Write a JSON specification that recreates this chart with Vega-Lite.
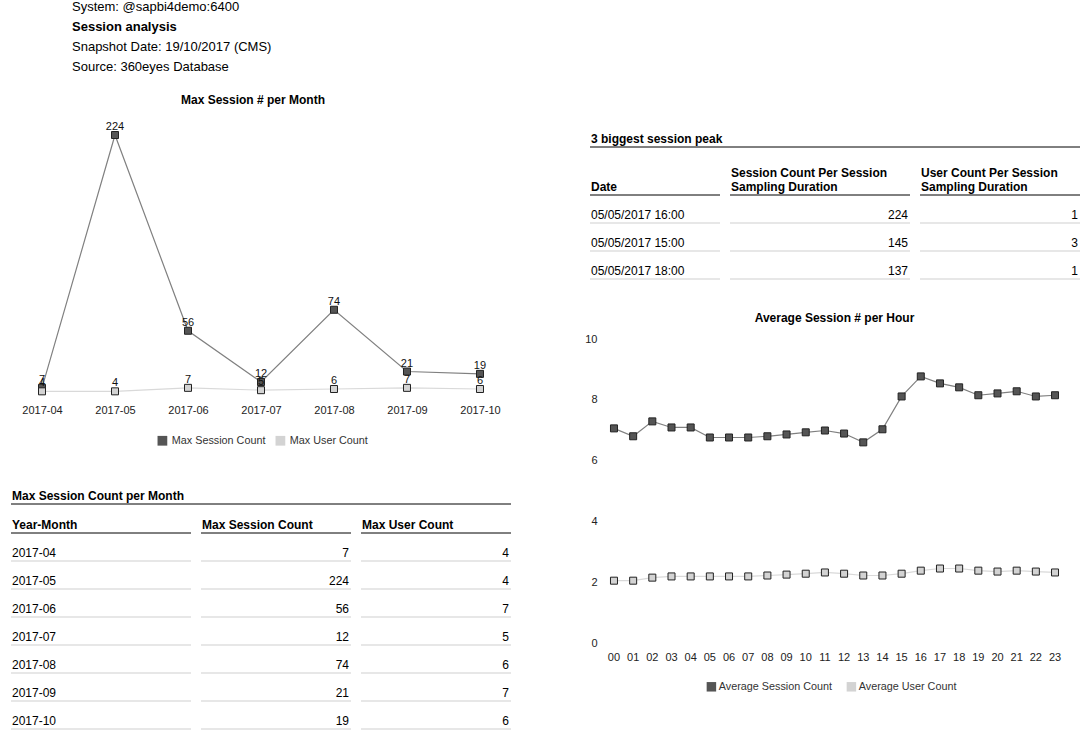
{
  "$schema": "https://vega.github.io/schema/vega-lite/v6.json",
  "padding": {"left": 10, "top": 0, "right": 0, "bottom": 0},
  "background": "white",
  "config": {"view": {"stroke": null, "fill": "white"}, "font": "Liberation Sans"},
  "datasets": {
    "monthly": [
      {"Year-Month": "2017-04", "Max Session Count": 7, "Max User Count": 4},
      {"Year-Month": "2017-05", "Max Session Count": 224, "Max User Count": 4},
      {"Year-Month": "2017-06", "Max Session Count": 56, "Max User Count": 7},
      {"Year-Month": "2017-07", "Max Session Count": 12, "Max User Count": 5},
      {"Year-Month": "2017-08", "Max Session Count": 74, "Max User Count": 6},
      {"Year-Month": "2017-09", "Max Session Count": 21, "Max User Count": 7},
      {"Year-Month": "2017-10", "Max Session Count": 19, "Max User Count": 6}
    ],
    "peaks": [
      {"Date": "05/05/2017 16:00", "Session Count": 224, "User Count": 1},
      {"Date": "05/05/2017 15:00", "Session Count": 145, "User Count": 3},
      {"Date": "05/05/2017 18:00", "Session Count": 137, "User Count": 1}
    ],
    "hourly": [
      {"Hour": "00", "Average Session Count": 7.06, "Average User Count": 2.05},
      {"Hour": "01", "Average Session Count": 6.80, "Average User Count": 2.05},
      {"Hour": "02", "Average Session Count": 7.29, "Average User Count": 2.15},
      {"Hour": "03", "Average Session Count": 7.09, "Average User Count": 2.19},
      {"Hour": "04", "Average Session Count": 7.09, "Average User Count": 2.19},
      {"Hour": "05", "Average Session Count": 6.76, "Average User Count": 2.19},
      {"Hour": "06", "Average Session Count": 6.76, "Average User Count": 2.19},
      {"Hour": "07", "Average Session Count": 6.76, "Average User Count": 2.19},
      {"Hour": "08", "Average Session Count": 6.80, "Average User Count": 2.22},
      {"Hour": "09", "Average Session Count": 6.86, "Average User Count": 2.25},
      {"Hour": "10", "Average Session Count": 6.93, "Average User Count": 2.28},
      {"Hour": "11", "Average Session Count": 6.99, "Average User Count": 2.32},
      {"Hour": "12", "Average Session Count": 6.89, "Average User Count": 2.28},
      {"Hour": "13", "Average Session Count": 6.60, "Average User Count": 2.22},
      {"Hour": "14", "Average Session Count": 7.03, "Average User Count": 2.22},
      {"Hour": "15", "Average Session Count": 8.11, "Average User Count": 2.28},
      {"Hour": "16", "Average Session Count": 8.77, "Average User Count": 2.38},
      {"Hour": "17", "Average Session Count": 8.54, "Average User Count": 2.45},
      {"Hour": "18", "Average Session Count": 8.41, "Average User Count": 2.45},
      {"Hour": "19", "Average Session Count": 8.15, "Average User Count": 2.38},
      {"Hour": "20", "Average Session Count": 8.21, "Average User Count": 2.35},
      {"Hour": "21", "Average Session Count": 8.28, "Average User Count": 2.38},
      {"Hour": "22", "Average Session Count": 8.11, "Average User Count": 2.35},
      {"Hour": "23", "Average Session Count": 8.15, "Average User Count": 2.32}
    ]
  },
  "spacing": 72,
  "resolve": {"scale": {"color": "independent", "stroke": "independent"}, "legend": {"color": "independent", "stroke": "independent"}},
  "hconcat": [
    {
      "bounds": "flush",
      "spacing": 63,
      "resolve": {"scale": {"color": "independent", "stroke": "independent"}, "legend": {"color": "independent", "stroke": "independent"}},
      "vconcat": [
        {
          "width": 122,
          "height": 72,
          "data": {"values": [
            {"line": "System: @sapbi4demo:6400"},
            {"line": "Session analysis"},
            {"line": "Snapshot Date: 19/10/2017 (CMS)"},
            {"line": "Source: 360eyes Database"}
          ]},
          "encoding": {
            "y": {"field": "line", "type": "ordinal", "axis": null,
                  "scale": {"type": "point", "padding": 0.3, "domain": ["System: @sapbi4demo:6400", "Session analysis", "Snapshot Date: 19/10/2017 (CMS)", "Source: 360eyes Database"]}},
            "text": {"field": "line"}
          },
          "layer": [
            {"transform": [{"filter": "datum.line !== 'Session analysis'"}],
             "mark": {"type": "text", "align": "left", "baseline": "middle", "fontSize": 13, "color": "#000000", "dy": 1}},
            {"transform": [{"filter": "datum.line === 'Session analysis'"}],
             "mark": {"type": "text", "align": "left", "baseline": "middle", "fontSize": 13, "fontWeight": "bold", "color": "#000000", "dy": 1}}
          ]
        },
        {
          "bounds": "flush",
          "spacing": 89,
          "resolve": {"scale": {"color": "independent", "stroke": "independent"}, "legend": {"color": "independent", "stroke": "independent"}},
          "vconcat": [
            {
              "width": 500,
              "height": 261,
              "data": {"name": "monthly"},
              "transform": [{"fold": ["Max Session Count", "Max User Count"], "as": ["Measure", "Value"]}],
              "title": {"text": "Max Session # per Month", "fontSize": 12, "fontWeight": "bold", "color": "#000000", "offset": 14, "dx": -8, "frame": "group"},
              "encoding": {
                "x": {"field": "Year-Month", "type": "ordinal", "scale": {"type": "point", "padding": 0.4247},
                      "axis": {"title": null, "labelAngle": 0, "domain": false, "ticks": false, "labelPadding": 8, "labelFontSize": 11, "labelColor": "#222222"}},
                "y": {"field": "Value", "type": "quantitative", "scale": {"domain": [0, 224], "nice": false}, "axis": null}
              },
              "layer": [
                {"mark": {"type": "line", "strokeWidth": 1.2},
                 "encoding": {"stroke": {"field": "Measure", "type": "nominal", "legend": null,
                   "scale": {"domain": ["Max User Count", "Max Session Count"], "range": ["#d9d9d9", "#808080"]}}}},
                {"mark": {"type": "square", "filled": true, "size": 49, "stroke": "#222222", "strokeWidth": 1, "opacity": 1},
                 "encoding": {"color": {"field": "Measure", "type": "nominal",
                   "scale": {"domain": ["Max Session Count", "Max User Count"], "range": ["#555555", "#d3d3d3"]},
                   "legend": {"title": null, "orient": "none", "legendX": 146, "legendY": 300, "direction": "horizontal",
                              "symbolType": "square", "symbolSize": 95, "symbolStrokeWidth": 0, "symbolOpacity": 1,
                              "labelFontSize": 10.8, "labelColor": "#333333", "labelOffset": 4, "columnPadding": 9}}}},
                {"mark": {"type": "text", "fontSize": 11, "color": "#111111", "dy": -8, "baseline": "middle"},
                 "encoding": {"text": {"field": "Value", "type": "quantitative"}}}
              ]
            },
            {
              "bounds": "flush",
              "spacing": 1,
              "vconcat": [
                {
                  "width": 500,
                  "height": 19,
                  "data": {"values": [{"t": "Max Session Count per Month"}]},
                  "encoding": {"y": {"field": "t", "type": "nominal", "axis": null, "bandPosition": 1,
                                     "scale": {"type": "band", "paddingInner": 0, "paddingOuter": 0}}},
                  "layer": [
                    {"mark": {"type": "rule", "color": "#000000", "strokeWidth": 1}},
                    {"mark": {"type": "text", "align": "left", "baseline": "bottom", "dy": -1, "dx": 1, "fontSize": 12, "fontWeight": "bold", "color": "#000000"},
                     "encoding": {"x": {"value": 0}, "text": {"field": "t"}}}
                  ]
                },
                {
                  "bounds": "flush",
                  "spacing": 10,
                  "hconcat": [
                    {
                      "width": 180, "height": 224,
                      "data": {"name": "monthly"},
                      "encoding": {"y": {"field": "Year-Month", "type": "ordinal", "axis": null, "bandPosition": 1,
                        "scale": {"type": "band", "paddingInner": 0, "paddingOuter": 0, "domain": ["_header", "2017-04", "2017-05", "2017-06", "2017-07", "2017-08", "2017-09", "2017-10"]}}},
                      "layer": [
                        {"mark": {"type": "rule", "color": "#cfcfcf", "strokeWidth": 1}},
                        {"mark": {"type": "text", "align": "left", "baseline": "bottom", "dy": -1.5, "dx": 1, "fontSize": 12, "color": "#000000"},
                         "encoding": {"x": {"value": 0}, "text": {"field": "Year-Month"}}},
                        {"data": {"values": [{"h": "Year-Month"}]},
                         "encoding": {"y": {"datum": "_header", "type": "ordinal", "bandPosition": 1}},
                         "layer": [
                           {"mark": {"type": "rule", "color": "#000000", "strokeWidth": 1}},
                           {"mark": {"type": "text", "align": "left", "baseline": "bottom", "dy": -1.5, "dx": 1, "fontSize": 12, "fontWeight": "bold", "color": "#000000"},
                            "encoding": {"x": {"value": 0}, "text": {"field": "h"}}}
                         ]}
                      ]
                    },
                    {
                      "width": 150, "height": 224,
                      "data": {"name": "monthly"},
                      "encoding": {"y": {"field": "Year-Month", "type": "ordinal", "axis": null, "bandPosition": 1,
                        "scale": {"type": "band", "paddingInner": 0, "paddingOuter": 0, "domain": ["_header", "2017-04", "2017-05", "2017-06", "2017-07", "2017-08", "2017-09", "2017-10"]}}},
                      "layer": [
                        {"mark": {"type": "rule", "color": "#cfcfcf", "strokeWidth": 1}},
                        {"mark": {"type": "text", "align": "right", "baseline": "bottom", "dy": -1.5, "dx": -2, "fontSize": 12, "color": "#000000"},
                         "encoding": {"x": {"value": "width"}, "text": {"field": "Max Session Count"}}},
                        {"data": {"values": [{"h": "Max Session Count"}]},
                         "encoding": {"y": {"datum": "_header", "type": "ordinal", "bandPosition": 1}},
                         "layer": [
                           {"mark": {"type": "rule", "color": "#000000", "strokeWidth": 1}},
                           {"mark": {"type": "text", "align": "left", "baseline": "bottom", "dy": -1.5, "dx": 1, "fontSize": 12, "fontWeight": "bold", "color": "#000000"},
                            "encoding": {"x": {"value": 0}, "text": {"field": "h"}}}
                         ]}
                      ]
                    },
                    {
                      "width": 150, "height": 224,
                      "data": {"name": "monthly"},
                      "encoding": {"y": {"field": "Year-Month", "type": "ordinal", "axis": null, "bandPosition": 1,
                        "scale": {"type": "band", "paddingInner": 0, "paddingOuter": 0, "domain": ["_header", "2017-04", "2017-05", "2017-06", "2017-07", "2017-08", "2017-09", "2017-10"]}}},
                      "layer": [
                        {"mark": {"type": "rule", "color": "#cfcfcf", "strokeWidth": 1}},
                        {"mark": {"type": "text", "align": "right", "baseline": "bottom", "dy": -1.5, "dx": -2, "fontSize": 12, "color": "#000000"},
                         "encoding": {"x": {"value": "width"}, "text": {"field": "Max User Count"}}},
                        {"data": {"values": [{"h": "Max User Count"}]},
                         "encoding": {"y": {"datum": "_header", "type": "ordinal", "bandPosition": 1}},
                         "layer": [
                           {"mark": {"type": "rule", "color": "#000000", "strokeWidth": 1}},
                           {"mark": {"type": "text", "align": "left", "baseline": "bottom", "dy": -1.5, "dx": 1, "fontSize": 12, "fontWeight": "bold", "color": "#000000"},
                            "encoding": {"x": {"value": 0}, "text": {"field": "h"}}}
                         ]}
                      ]
                    }
                  ]
                }
              ]
            }
          ]
        }
      ]
    },
    {
      "spacing": 0,
      "resolve": {"scale": {"color": "independent", "stroke": "independent"}, "legend": {"color": "independent", "stroke": "independent"}},
      "vconcat": [
        {
          "width": 490,
          "height": 127,
          "data": {"values": []},
          "mark": {"type": "text"},
          "encoding": {}
        },
        {
          "spacing": 32,
          "resolve": {"scale": {"color": "independent", "stroke": "independent"}, "legend": {"color": "independent", "stroke": "independent"}},
          "vconcat": [
            {
              "bounds": "flush",
              "spacing": 20,
              "vconcat": [
                {
                  "width": 490,
                  "height": 20,
                  "data": {"values": [{"t": "3 biggest session peak"}]},
                  "encoding": {"y": {"field": "t", "type": "nominal", "axis": null, "bandPosition": 1,
                                     "scale": {"type": "band", "paddingInner": 0, "paddingOuter": 0}}},
                  "layer": [
                    {"mark": {"type": "rule", "color": "#000000", "strokeWidth": 1}},
                    {"mark": {"type": "text", "align": "left", "baseline": "bottom", "dy": -1, "dx": 1, "fontSize": 12, "fontWeight": "bold", "color": "#000000"},
                     "encoding": {"x": {"value": 0}, "text": {"field": "t"}}}
                  ]
                },
                {
                  "bounds": "flush",
                  "spacing": 10,
                  "hconcat": [
                    {
                      "width": 130, "height": 112,
                      "data": {"name": "peaks"},
                      "encoding": {"y": {"field": "Date", "type": "ordinal", "axis": null, "bandPosition": 1,
                        "scale": {"type": "band", "paddingInner": 0, "paddingOuter": 0, "domain": ["_header", "05/05/2017 16:00", "05/05/2017 15:00", "05/05/2017 18:00"]}}},
                      "layer": [
                        {"mark": {"type": "rule", "color": "#cfcfcf", "strokeWidth": 1}},
                        {"mark": {"type": "text", "align": "left", "baseline": "bottom", "dy": -1.5, "dx": 1, "fontSize": 12, "color": "#000000"},
                         "encoding": {"x": {"value": 0}, "text": {"field": "Date"}}},
                        {"data": {"values": [{"h": "Date"}]},
                         "encoding": {"y": {"datum": "_header", "type": "ordinal", "bandPosition": 1}},
                         "layer": [
                           {"mark": {"type": "rule", "color": "#000000", "strokeWidth": 1}},
                           {"mark": {"type": "text", "align": "left", "baseline": "bottom", "dy": -1.5, "dx": 1, "fontSize": 12, "fontWeight": "bold", "color": "#000000"},
                            "encoding": {"x": {"value": 0}, "text": {"field": "h"}}}
                         ]}
                      ]
                    },
                    {
                      "width": 180, "height": 112,
                      "data": {"name": "peaks"},
                      "encoding": {"y": {"field": "Date", "type": "ordinal", "axis": null, "bandPosition": 1,
                        "scale": {"type": "band", "paddingInner": 0, "paddingOuter": 0, "domain": ["_header", "05/05/2017 16:00", "05/05/2017 15:00", "05/05/2017 18:00"]}}},
                      "layer": [
                        {"mark": {"type": "rule", "color": "#cfcfcf", "strokeWidth": 1}},
                        {"mark": {"type": "text", "align": "right", "baseline": "bottom", "dy": -1.5, "dx": -2, "fontSize": 12, "color": "#000000"},
                         "encoding": {"x": {"value": "width"}, "text": {"field": "Session Count"}}},
                        {"data": {"values": [{"h": "Session Count Per Session"}]},
                         "encoding": {"y": {"datum": "_header", "type": "ordinal", "bandPosition": 1}},
                         "layer": [
                           {"mark": {"type": "rule", "color": "#000000", "strokeWidth": 1}},
                           {"mark": {"type": "text", "align": "left", "baseline": "bottom", "dy": -15, "dx": 1, "fontSize": 12, "fontWeight": "bold", "color": "#000000", "lineHeight": 14},
                            "encoding": {"x": {"value": 0}, "text": {"value": ["Session Count Per Session", "Sampling Duration"]}}}
                         ]}
                      ]
                    },
                    {
                      "width": 160, "height": 112,
                      "data": {"name": "peaks"},
                      "encoding": {"y": {"field": "Date", "type": "ordinal", "axis": null, "bandPosition": 1,
                        "scale": {"type": "band", "paddingInner": 0, "paddingOuter": 0, "domain": ["_header", "05/05/2017 16:00", "05/05/2017 15:00", "05/05/2017 18:00"]}}},
                      "layer": [
                        {"mark": {"type": "rule", "color": "#cfcfcf", "strokeWidth": 1}},
                        {"mark": {"type": "text", "align": "right", "baseline": "bottom", "dy": -1.5, "dx": -2, "fontSize": 12, "color": "#000000"},
                         "encoding": {"x": {"value": "width"}, "text": {"field": "User Count"}}},
                        {"data": {"values": [{"h": "User Count Per Session"}]},
                         "encoding": {"y": {"datum": "_header", "type": "ordinal", "bandPosition": 1}},
                         "layer": [
                           {"mark": {"type": "rule", "color": "#000000", "strokeWidth": 1}},
                           {"mark": {"type": "text", "align": "left", "baseline": "bottom", "dy": -15, "dx": 1, "fontSize": 12, "fontWeight": "bold", "color": "#000000", "lineHeight": 14},
                            "encoding": {"x": {"value": 0}, "text": {"value": ["User Count Per Session", "Sampling Duration"]}}}
                         ]}
                      ]
                    }
                  ]
                }
              ]
            },
            {
              "width": 489,
              "height": 304,
              "data": {"name": "hourly"},
              "transform": [{"fold": ["Average Session Count", "Average User Count"], "as": ["Measure", "Value"]}],
              "title": {"text": "Average Session # per Hour", "fontSize": 12, "fontWeight": "bold", "color": "#000000", "offset": 8, "frame": "group"},
              "encoding": {
                "x": {"field": "Hour", "type": "ordinal", "scale": {"type": "band", "paddingInner": 0, "paddingOuter": 0.75},
                      "axis": {"title": null, "labelAngle": 0, "domain": false, "ticks": false, "labelPadding": 8, "labelFontSize": 11, "labelColor": "#222222"}},
                "y": {"field": "Value", "type": "quantitative", "scale": {"domain": [0, 10], "nice": false},
                      "axis": {"title": null, "values": [0, 2, 4, 6, 8, 10], "domain": false, "ticks": false, "tickSize": 0, "grid": false, "offset": -7, "labelPadding": 0, "labelFontSize": 11, "labelColor": "#222222"}}
              },
              "layer": [
                {"mark": {"type": "line", "strokeWidth": 1.2},
                 "encoding": {"stroke": {"field": "Measure", "type": "nominal", "legend": null,
                   "scale": {"domain": ["Average User Count", "Average Session Count"], "range": ["#d9d9d9", "#808080"]}}}},
                {"mark": {"type": "square", "filled": true, "size": 49, "stroke": "#222222", "strokeWidth": 1, "opacity": 1},
                 "encoding": {"color": {"field": "Measure", "type": "nominal",
                   "scale": {"domain": ["Average Session Count", "Average User Count"], "range": ["#555555", "#d3d3d3"]},
                   "legend": {"title": null, "orient": "none", "legendX": 116, "legendY": 342, "direction": "horizontal",
                              "symbolType": "square", "symbolSize": 90, "symbolStrokeWidth": 0, "symbolOpacity": 1,
                              "labelFontSize": 10.8, "labelColor": "#333333", "labelOffset": 2, "columnPadding": 13}}}}
              ]
            }
          ]
        }
      ]
    }
  ]
}
